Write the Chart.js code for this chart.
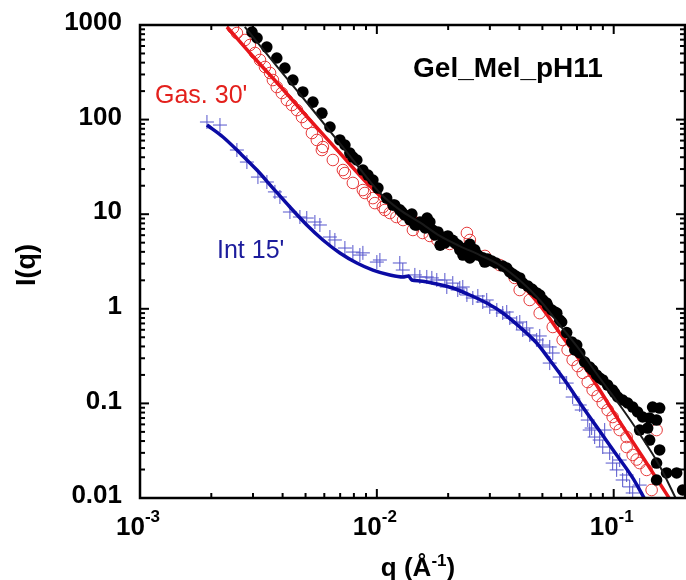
<!DOCTYPE html>
<html>
<head>
<meta charset="utf-8">
<title>Gel_Mel_pH11</title>
<script src="https://cdn.jsdelivr.net/npm/chart.js@4.4.1/dist/chart.umd.min.js"></script>
<style>
  html, body { margin: 0; padding: 0; background: #fff; }
  canvas { display: block; }
</style>
</head>
<body>
<canvas id="sansChart" width="686" height="580"></canvas>
<script>
// axes
const xMin = 0.001, xMax = 0.2;
const yMin = 0.01, yMax = 1000;
const xTickValues = [0.001, 0.01, 0.1];
const xTickExps = ["-3", "-2", "-1"];
const yTickValues = [0.01, 0.1, 1, 10, 100, 1000];
const yTickLabels = ["0.01", "0.1", "1", "10", "100", "1000"];

// Gel_Mel_pH11 data, [q, I]
const gelData = [
  [2.97e-3, 843], [3.12e-3, 729], [3.43e-3, 585], [3.78e-3, 448], [4.09e-3, 351], [4.42e-3, 262],
  [4.87e-3, 196], [5.37e-3, 153], [5.86e-3, 117], [6.34e-3, 83.5], [6.98e-3, 60.9],
  [7.33e-3, 53.9], [7.69e-3, 44.3], [7.92e-3, 40.2], [8.23e-3, 37.4], [8.73e-3, 29.3],
  [9.17e-3, 25.9], [9.62e-3, 23.0], [1.01e-2, 18.9], [1.10e-2, 14.8], [1.169e-2, 12.5],
  [1.19e-2, 12.5], [1.25e-2, 11.1], [1.275e-2, 10.55], [1.31e-2, 9.81], [1.38e-2, 8.7],
  [1.405e-2, 10.05], [1.45e-2, 7.7], [1.474e-2, 7.69], [1.52e-2, 8.27], [1.56e-2, 8.1],
  [1.60e-2, 7.15], [1.63e-2, 9.1], [1.674e-2, 8.27], [1.72e-2, 6.8], [1.757e-2, 6.03],
  [1.81e-2, 6.49], [1.85e-2, 4.7], [1.90e-2, 5.7], [1.94e-2, 4.96], [1.994e-2, 5.89],
  [2.09e-2, 5.3], [2.133e-2, 4.96], [2.20e-2, 4.72], [2.24e-2, 4.2], [2.31e-2, 3.70],
  [2.352e-2, 4.18], [2.38e-2, 4.4], [2.47e-2, 3.45], [2.47e-2, 4.8], [2.59e-2, 4.2],
  [2.59e-2, 3.98], [2.669e-2, 3.70], [2.80e-2, 3.45], [2.855e-2, 3.12], [2.94e-2, 3.36],
  [3.057e-2, 3.20], [3.18e-2, 3.05], [3.40e-2, 2.83], [3.535e-2, 2.70], [3.64e-2, 2.45],
  [3.749e-2, 2.33], [3.86e-2, 2.22], [4.013e-2, 2.12], [4.13e-2, 1.87], [4.34e-2, 1.74],
  [4.51e-2, 1.62], [4.55e-2, 1.58], [4.73e-2, 1.47], [4.873e-2, 1.40], [5.02e-2, 1.24],
  [5.21e-2, 1.15], [5.27e-2, 1.07], [5.48e-2, 0.971], [5.64e-2, 0.925], [5.75e-2, 0.90],
  [5.918e-2, 0.761], [6.03e-2, 0.725], [6.33e-2, 0.56], [6.65e-2, 0.446], [6.85e-2, 0.367],
  [6.98e-2, 0.414], [7.19e-2, 0.341], [7.54e-2, 0.274], [7.92e-2, 0.242], [8.15e-2, 0.2254],
  [8.47e-2, 0.1996], [8.727e-2, 0.1855], [8.99e-2, 0.177], [9.43e-2, 0.156], [9.9e-2, 0.1385],
  [0.101, 0.1288], [0.104, 0.1168], [0.109, 0.1086], [0.1145, 0.101], [0.1203, 0.0915],
  [0.1262, 0.0811], [0.1287, 0.0523], [0.1325, 0.0718], [0.1391, 0.0549], [0.1418, 0.070],
  [0.1418, 0.041], [0.146, 0.0915], [0.1517, 0.0667], [0.1517, 0.0234], [0.1517, 0.0155],
  [0.1563, 0.0893], [0.1563, 0.0322], [0.1672, 0.0184], [0.1844, 0.0184], [0.1955, 0.01215]
];
const gelFit = [
  [2.77e-3, 953], [3.90e-3, 334], [5.37e-3, 126.3], [7.47e-3, 45.4], [1.03e-2, 16.75],
  [1.25e-2, 11.1], [1.519e-2, 8.2], [1.845e-2, 5.9], [2.24e-2, 4.6], [2.72e-2, 3.7],
  [3.30e-2, 2.9], [4.01e-2, 2.0], [4.87e-2, 1.24], [5.92e-2, 0.674], [7.19e-2, 0.367],
  [8.73e-2, 0.1855], [0.106, 0.0962], [0.1287, 0.0475], [0.1563, 0.0218], [0.1844, 0.0095]
];

// Gas. 30'
const gasData = [
  [2.47e-3, 930], [2.565e-3, 823], [2.77e-3, 694], [2.91e-3, 614], [3.06e-3, 506],
  [3.21e-3, 427], [3.37e-3, 360], [3.54e-3, 311], [3.64e-3, 262], [3.78e-3, 221],
  [3.97e-3, 191], [4.17e-3, 161], [4.38e-3, 142.6], [4.60e-3, 126], [4.83e-3, 106.5],
  [5.06e-3, 92], [5.32e-3, 72.1], [5.58e-3, 60.9], [5.86e-3, 47.7], [5.92e-3, 51.3],
  [6.52e-3, 37.4], [7.19e-3, 29.3], [7.33e-3, 27.2], [7.92e-3, 21.4], [8.73e-3, 18.0],
  [8.9e-3, 16.75], [9.62e-3, 14.8], [9.81e-3, 13.1], [1.06e-2, 11.9], [1.081e-2, 11.08],
  [1.135e-2, 10.3], [1.21e-2, 9.34], [1.29e-2, 8.68], [1.42e-2, 6.81], [1.56e-2, 6.33],
  [1.674e-2, 5.89], [1.80e-2, 5.34], [2.03e-2, 4.85], [2.40e-2, 6.33], [2.47e-2, 5.34],
  [2.86e-2, 3.62], [3.30e-2, 2.90], [3.82e-2, 2.12], [4.01e-2, 1.58], [4.42e-2, 1.24],
  [4.87e-2, 0.90], [5.53e-2, 0.642], [6.09e-2, 0.468], [6.39e-2, 0.367], [6.71e-2, 0.288],
  [7.05e-2, 0.248], [7.40e-2, 0.210], [7.77e-2, 0.168], [8.15e-2, 0.1385], [8.56e-2, 0.1197],
  [8.99e-2, 0.101], [9.43e-2, 0.0851], [9.9e-2, 0.0718], [0.102, 0.0605], [0.106, 0.0523],
  [0.1134, 0.0441], [0.1134, 0.0346], [0.1203, 0.0285], [0.125, 0.0255], [0.1287, 0.0234],
  [0.1377, 0.0198], [0.1446, 0.01215], [0.1517, 0.0523]
];
const gasFit = [
  [2.33e-3, 953], [2.91e-3, 506], [3.90e-3, 226.5], [5.22e-3, 99], [6.98e-3, 44.3],
  [9.34e-3, 19.9], [1.135e-2, 12.8], [1.378e-2, 10.05], [1.79e-2, 6.49], [2.24e-2, 4.96],
  [2.72e-2, 3.89], [3.30e-2, 2.83], [4.01e-2, 1.87], [4.87e-2, 1.10], [5.92e-2, 0.555],
  [7.69e-2, 0.2254], [8.73e-2, 0.1385], [0.1029, 0.0718], [0.1325, 0.0271], [0.1723, 0.0098]
];

// Int 15'
const intData = [
  [1.917e-3, 94.3], [2.176e-3, 87.6], [2.565e-3, 47.7], [2.827e-3, 35.6], [3.147e-3, 24.7],
  [3.434e-3, 21.9], [3.712e-3, 17.2], [3.897e-3, 15.2], [4.295e-3, 10.55], [4.733e-3, 9.34],
  [5.06e-3, 9.11], [5.476e-3, 8.27], [5.748e-3, 7.69], [6.335e-3, 5.74], [6.65e-3, 5.34],
  [7.33e-3, 4.39], [7.92e-3, 3.98], [8.479e-3, 3.70], [8.73e-3, 3.90], [1.0e-2, 3.12],
  [1.03e-2, 3.28], [1.25e-2, 3.05], [1.287e-2, 2.57], [1.447e-2, 2.28], [1.519e-2, 2.17],
  [1.625e-2, 2.17], [1.707e-2, 2.12], [1.791e-2, 2.016], [1.937e-2, 2.016], [1.974e-2, 1.70],
  [2.092e-2, 1.87], [2.196e-2, 1.58], [2.24e-2, 1.66], [2.306e-2, 1.70], [2.40e-2, 1.40],
  [2.542e-2, 1.30], [2.669e-2, 1.366], [2.80e-2, 1.18], [2.91e-2, 1.239], [2.998e-2, 1.045],
  [3.21e-2, 0.971], [3.40e-2, 0.903], [3.535e-2, 0.925], [3.641e-2, 0.799], [3.896e-2, 0.708],
  [4.013e-2, 0.725], [4.13e-2, 0.597], [4.29e-2, 0.627], [4.422e-2, 0.529], [4.73e-2, 0.468],
  [4.873e-2, 0.516], [5.02e-2, 0.414], [5.37e-2, 0.395], [5.53e-2, 0.341], [5.37e-2, 0.267],
  [5.918e-2, 0.190], [6.33e-2, 0.164], [6.71e-2, 0.1168], [7.186e-2, 0.0962], [7.33e-2, 0.0851],
  [7.77e-2, 0.0667], [7.92e-2, 0.0523], [8.07e-2, 0.0549], [8.31e-2, 0.0441], [8.727e-2, 0.041],
  [8.99e-2, 0.0346], [9.16e-2, 0.0523], [9.618e-2, 0.0299], [9.9e-2, 0.0234], [0.1029, 0.0198],
  [0.106, 0.0252], [0.1091, 0.0155], [0.1134, 0.0175], [0.1168, 0.0131], [0.1203, 0.0113],
  [0.1287, 0.0137]
];
const intFit = [
  [1.917e-3, 87.7], [2.24e-3, 65.5], [2.642e-3, 44.3], [3.116e-3, 29.3], [3.64e-3, 18.9],
  [4.295e-3, 11.9], [5.06e-3, 7.69], [5.92e-3, 5.34], [6.981e-3, 3.89], [8.23e-3, 3.05],
  [9.62e-3, 2.57], [1.135e-2, 2.28], [1.287e-2, 2.17], [1.36e-2, 2.22], [1.405e-2, 2.016],
  [1.519e-2, 1.97], [1.791e-2, 1.83], [2.092e-2, 1.66], [2.469e-2, 1.40], [2.91e-2, 1.15],
  [3.40e-2, 0.903], [4.013e-2, 0.642], [4.73e-2, 0.435], [5.37e-2, 0.2876], [6.33e-2, 0.164],
  [7.40e-2, 0.0915], [8.727e-2, 0.051], [0.1029, 0.0285], [0.1203, 0.0163], [0.135, 0.0098]
];

const FONT = '"Liberation Sans", Arial, sans-serif';
const toXY = (pairs) => pairs.map(([x, y]) => ({ x, y }));

function fitLine(pairs, color, width) {
    return {
        data: toXY(pairs),
        showLine: true,
        borderColor: color,
        borderWidth: width,
        pointRadius: 0,
        cubicInterpolationMode: "monotone",
        clip: 0,
    };
}

// axes frame, inward ticks, tick labels, titles and notes
const framePlugin = {
    id: "frame",
    afterDraw(chart) {
        const { ctx, chartArea: a, scales } = chart;
        const xs = scales.x, ys = scales.y;
        ctx.save();
        ctx.strokeStyle = "#000";
        ctx.lineCap = "butt";

        function seg(x1, y1, x2, y2) {
            ctx.beginPath();
            ctx.moveTo(x1, y1);
            ctx.lineTo(x2, y2);
            ctx.stroke();
        }

        ctx.lineWidth = 2;
        yTickValues.forEach((base) => {
            for (let m = 1; m <= 9; m++) {
                const v = base * m;
                if (v > yMax * 1.0001) break;
                const py = ys.getPixelForValue(v);
                const len = m === 1 ? 9 : 5;
                seg(a.left, py, a.left + len, py);
                seg(a.right, py, a.right - len, py);
            }
        });
        xTickValues.forEach((base) => {
            for (let m = 1; m <= 9; m++) {
                const v = base * m;
                if (v >= xMax * 0.9999) break;
                const px = xs.getPixelForValue(v);
                const len = m === 1 ? 9 : 5;
                seg(px, a.bottom, px, a.bottom - len);
                seg(px, a.top, px, a.top + len);
            }
        });

        ctx.lineWidth = 2.5;
        ctx.strokeRect(a.left, a.top, a.right - a.left, a.bottom - a.top);

        ctx.fillStyle = "#000";
        // y tick labels
        ctx.font = "bold 26px " + FONT;
        ctx.textAlign = "right";
        ctx.textBaseline = "middle";
        yTickValues.forEach((v, i) => {
            ctx.fillText(yTickLabels[i], a.left - 18, ys.getPixelForValue(v) - 2);
        });

        // x tick labels 10^n
        ctx.textBaseline = "alphabetic";
        ctx.textAlign = "left";
        xTickValues.forEach((v, i) => {
            ctx.font = "bold 26px " + FONT;
            const w1 = ctx.measureText("10").width;
            ctx.font = "bold 17px " + FONT;
            const w2 = ctx.measureText(xTickExps[i]).width;
            const x0 = xs.getPixelForValue(v) - (w1 + w2) / 2 - 2;
            ctx.font = "bold 26px " + FONT;
            ctx.fillText("10", x0, 535);
            ctx.font = "bold 17px " + FONT;
            ctx.fillText(xTickExps[i], x0 + w1, 522);
        });

        // x title: q (Å^-1)
        ctx.font = "bold 26px " + FONT;
        const t1 = "q (\u00C5", t3 = ")";
        const tw1 = ctx.measureText(t1).width, tw3 = ctx.measureText(t3).width;
        ctx.font = "bold 17px " + FONT;
        const tw2 = ctx.measureText("-1").width;
        let tx = 418 - (tw1 + tw2 + tw3) / 2;
        ctx.font = "bold 26px " + FONT;
        ctx.fillText(t1, tx, 576);
        ctx.font = "bold 17px " + FONT;
        ctx.fillText("-1", tx + tw1, 566);
        ctx.font = "bold 26px " + FONT;
        ctx.fillText(t3, tx + tw1 + tw2, 576);

        // y title
        ctx.save();
        ctx.translate(28, 265);
        ctx.rotate(-Math.PI / 2);
        ctx.textAlign = "center";
        ctx.textBaseline = "middle";
        ctx.font = "bold 27px " + FONT;
        ctx.fillText("I(q)", 0, 0);
        ctx.restore();

        // notes
        ctx.textAlign = "center";
        ctx.font = "bold 28px " + FONT;
        ctx.fillText("Gel_Mel_pH11", 508, 77);
        ctx.textAlign = "left";
        ctx.font = "25px " + FONT;
        ctx.fillStyle = "#e3201c";
        ctx.fillText("Gas. 30'", 155, 103);
        ctx.fillStyle = "#1c1c9c";
        ctx.fillText("Int 15'", 217, 258);
        ctx.restore();
    },
};

new Chart(document.getElementById("sansChart"), {
    type: "scatter",
    data: {
        datasets: [
            fitLine(gelFit, "#1a1a1a", 2),
            {
                data: toXY(gelData),
                pointStyle: "circle",
                pointRadius: 5.8,
                backgroundColor: "#000",
                borderColor: "#000",
                borderWidth: 0,
            },
            fitLine(gasFit, "#e8161b", 3.5),
            {
                data: toXY(gasData),
                pointStyle: "circle",
                pointRadius: 5.8,
                backgroundColor: "rgba(0,0,0,0)",
                borderColor: "#e63a3a",
                borderWidth: 1,
            },
            fitLine(intFit, "#0b0ba4", 3.5),
            {
                data: toXY(intData),
                pointStyle: "cross",
                pointRadius: 7,
                borderColor: "#5555cc",
                borderWidth: 1,
            },
        ],
    },
    options: {
        responsive: false,
        animation: false,
        layout: {
            autoPadding: false,
            padding: { left: 140, top: 25, right: 1, bottom: 82 },
        },
        scales: {
            x: { type: "logarithmic", min: xMin, max: xMax, display: false },
            y: { type: "logarithmic", min: yMin, max: yMax, display: false },
        },
        plugins: {
            legend: { display: false },
            tooltip: { enabled: false },
        },
    },
    plugins: [framePlugin],
});
</script>
</body>
</html>
